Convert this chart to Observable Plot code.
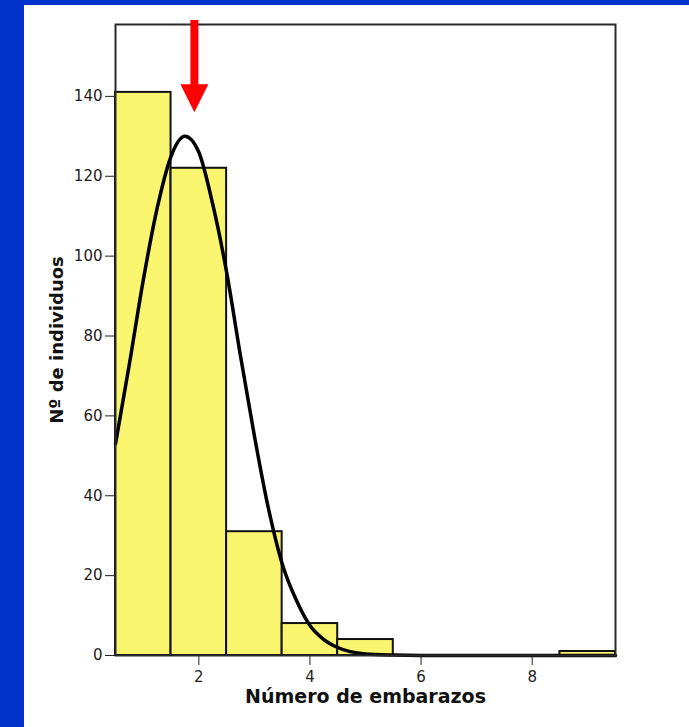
<!DOCTYPE html>
<html>
<head>
<meta charset="utf-8">
<script src="https://cdn.jsdelivr.net/npm/d3@7"></script>
<script src="https://cdn.jsdelivr.net/npm/@observablehq/plot@0.6"></script>
<style>
  html, body { margin: 0; padding: 0; background: #0033cc; }
  #wrap { position: relative; width: 689px; height: 727px; background: #0033cc; overflow: hidden; }
  #panel { position: absolute; left: 24px; top: 5px; right: 0; bottom: 0; background: #ffffff; }
  #chart { position: absolute; left: 0; top: 0; }
</style>
</head>
<body>
<div id="wrap"><div id="panel"></div><div id="chart"></div></div>
<script>
// Histogram: number of pregnancies (bin centre) and number of individuals
const pregnancies = [1, 2, 3, 4, 5, 6, 7, 8, 9];
const individuals = [141, 122, 31, 8, 4, 0, 0, 0, 1];

// Normal curve overlay
const curveX = [0.5, 0.75, 1.0, 1.25, 1.5, 1.75, 2.0, 2.25, 2.5, 2.75, 3.0, 3.25, 3.5, 3.75, 4.0, 4.25, 4.5, 5.0, 5.5, 6.0, 7.0, 8.0, 9.5];
const curveY = [53, 73, 94, 112, 125, 130, 126, 113, 96, 75, 55, 37, 23, 14, 7.5, 4, 2, 0.4, 0.1, 0, 0, 0, 0];

// Red arrow annotation (x position, tip value, top of shaft)
const arrowX = [1.92];
const arrowTip = [136];
const arrowTop = [159];
const arrowHeadBase = [142.5];

// Axis ticks and labels
const xTicks = [2, 4, 6, 8];
const yTicks = [0, 20, 40, 60, 80, 100, 120, 140];
const xLabel = "Número de embarazos";
const yLabel = "Nº de individuos";

const bars = pregnancies.map((p, i) => ({p, n: individuals[i]})).filter(d => d.n > 0);
const curve = curveX.map((x, i) => ({x, y: curveY[i]}));
const arrow = arrowX.map((x, i) => ({x, tip: arrowTip[i], top: arrowTop[i], base: arrowHeadBase[i]}));

const downTriangle = {
  draw(ctx, size) {
    const r = Math.sqrt(size / Math.PI);
    ctx.moveTo(0, 0);
    ctx.lineTo(-r, -2 * r);
    ctx.lineTo(r, -2 * r);
    ctx.closePath();
  }
};

const chart = Plot.plot({
  width: 689,
  height: 727,
  marginLeft: 115,
  marginRight: 74,
  marginTop: 24,
  marginBottom: 72,
  style: {background: "transparent", fontFamily: "DejaVu Sans", fontSize: "15px", color: "#222", overflow: "visible"},
  x: {domain: [0.5, 9.5], ticks: xTicks, tickSize: 10, tickPadding: 6, label: null},
  y: {domain: [0, 158], ticks: yTicks, tickSize: 10, tickPadding: 3, label: null},
  marks: [
    Plot.rectY(bars, {x1: d => d.p - 0.5, x2: d => d.p + 0.5, y: "n", fill: "#f9f56f", stroke: "#111", strokeWidth: 2}),
    Plot.line(curve, {x: "x", y: "y", curve: "monotone-x", stroke: "#000", strokeWidth: 3.5}),
    Plot.frame({stroke: "#2a2a2a", strokeWidth: 2}),
    Plot.ruleX(arrow, {x: "x", y1: "base", y2: "top", stroke: "#ff0000", strokeWidth: 8}),
    Plot.dot(arrow, {x: "x", y: "tip", r: 14, symbol: downTriangle, fill: "#ff0000", stroke: "none"}),
    Plot.text([xLabel], {frameAnchor: "bottom", dy: 47, text: d => d, fontSize: 19, fontWeight: "bold", fontFamily: "DejaVu Sans", fill: "#111"}),
    Plot.text([yLabel], {frameAnchor: "left", dx: -58, rotate: -90, textAnchor: "middle", text: d => d, fontSize: 18, fontWeight: "bold", fontFamily: "DejaVu Sans", fill: "#111"})
  ]
});
document.getElementById("chart").appendChild(chart);
</script>
</body>
</html>
